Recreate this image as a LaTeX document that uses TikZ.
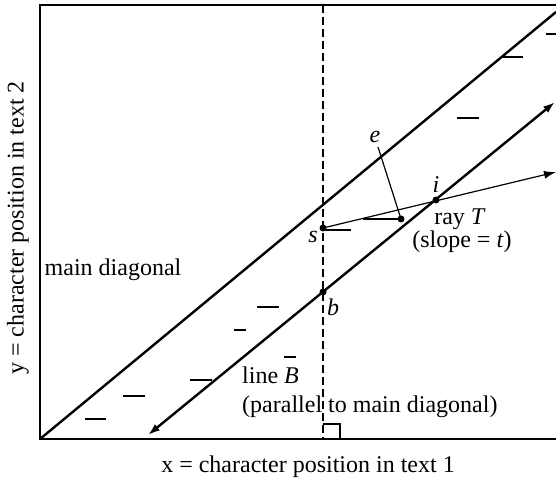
\documentclass[tikz,border=0pt]{standalone}
\usepackage{fontspec}
\setmainfont{Liberation Serif}
\usetikzlibrary{arrows.meta, positioning}

\begin{document}
\begin{tikzpicture}[x=1pt, y=-1pt,
  frame/.style={line width=1.2pt},
  diag/.style={line width=2.4pt},
  arr/.style={-{Latex[length=12pt, width=8pt]}},
  dot/.style={circle, fill=black, inner sep=0pt, minimum size=7pt},
  lbl/.style={font=\fontsize{24}{27}\selectfont, inner sep=1pt},
]
  \useasboundingbox (0,0) rectangle (556,481);

  % frame and axes
  \coordinate (tr)  at (556,5);
  \coordinate (tl)  at (40,5);
  \coordinate (o)   at (40,439);
  \coordinate (br)  at (556,439);
  \draw[frame] (tr) -- (tl) -- (o) -- (br);

  % vertical through s and b
  \coordinate (top)  at (323,5);
  \coordinate (foot) at (323,439);
  \draw[frame, dash pattern=on 8pt off 4pt] (top) -- (foot);
  \draw[frame] (323,424) -- (340,424) -- (340,439);

  % main diagonal and line B
  \coordinate (md) at (556,12);
  \draw[diag] (o) -- (md);
  \coordinate (bl) at (148,435);
  \coordinate (bu) at (555,102);
  \draw[diag, {Latex[length=12pt, width=8pt]}-{Latex[length=12pt, width=8pt]}] (bl) -- (bu);

  % points
  \node[dot] (s) at (323,228) {};
  \node[dot] (b) at (323,292) {};
  \node[dot] (i) at (436,200) {};
  \node[dot] (e) at (401,219) {};

  % ray T
  \coordinate (tend) at (556,172);
  \draw[frame, arr] (s.center) -- (tend);
  \coordinate (ej) at (363,219);
  \draw[frame] (ej) -- (e.center);

  % matches
  \foreach \xa/\xb/\yy in {546/556/34, 503/523/57, 457/479/118, 323/351/230,
      257/279/307, 234/246/330, 284/296/357, 190/212/380, 123/145/396, 85/106/419}
    \draw[frame] (\xa,\yy) -- (\xb,\yy);

  % labels
  \node[lbl] (elbl) at (375,137) {\textit{e}};
  \draw[frame] (elbl.south) ++(3,3) -- (e.center);
  \node[lbl] (ilbl) at (436,185) {\textit{i}};
  \node[lbl] (slbl) at (313,237) {\textit{s}};
  \node[lbl] (blbl) at (333,307) {\textit{b}};
  \node[lbl] (ray) at (460,219) {ray \textit{T}};
  \node[lbl] (slope) at (462,242) {(slope = \textit{t})};
  \node[lbl] (mdlbl) at (113,270) {main diagonal};
  \node[lbl, anchor=west, align=left, font=\fontsize{24}{29}\selectfont]
    (lineb) at (241,392) {line \textit{B}\\(parallel to main diagonal)};
  \node[lbl] (xlbl) at (308,467) {x = character position in text 1};
  \node[lbl, rotate=90] (ylbl) at (18,228) {y = character position in text 2};
\end{tikzpicture}
\end{document}
